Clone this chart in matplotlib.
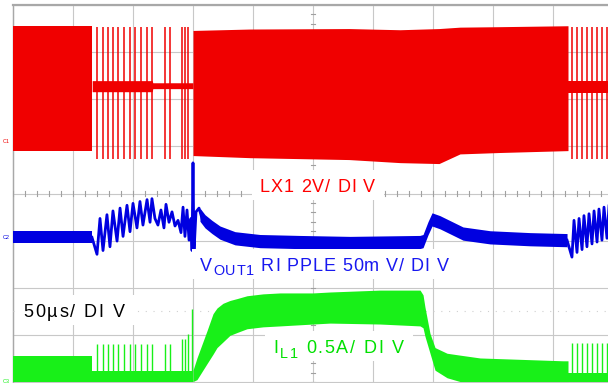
import numpy as np
import matplotlib.pyplot as plt
from matplotlib.patches import Rectangle
from matplotlib.transforms import IdentityTransform
from matplotlib.font_manager import FontProperties, findfont, get_font
from matplotlib.ft2font import LoadFlags

plt.rcParams['font.family'] = ['Liberation Sans', 'DejaVu Sans']

# scope screen: 50 us/div, 8 vertical divisions, centre at 0
T_DIV = 50.0
CH1_OFS, CH1_SCALE = 1.10, 2.0     # LX1, V/div
CH2_OFS, CH2_SCALE = -0.93, 50.0   # VOUT1 ripple, mV/div
CH3_OFS, CH3_SCALE = -3.99, 0.5    # IL1, A/div

RED = '#f00000'
BLUE = '#0000e0'
GREEN = '#18f018'

# ---- CH1: LX1 (V) ----
lx1_block1_t = [0, 66]
lx1_block1_hi = [4.90, 4.90]
lx1_block1_lo = [-0.38, -0.38]
lx1_block2_t = [150, 197.5, 280, 322.5, 355, 372.5, 405.8, 462.5]
lx1_block2_hi = [4.72, 4.78, 4.80, 4.75, 4.80, 4.86, 4.88, 4.92]
lx1_block2_lo = [-0.59, -0.68, -0.76, -0.89, -0.93, -0.52, -0.46, -0.38]
lx1_idle1_t = [66, 116, 116.5, 150]
lx1_idle1_hi = [2.59, 2.59, 2.50, 2.50]
lx1_idle1_lo = [2.12, 2.12, 2.25, 2.25]
lx1_idle2_t = [462.5, 500]
lx1_idle2_hi = [2.59, 2.59]
lx1_idle2_lo = [2.08, 2.08]
pulses1_t = [69.8, 74.7, 78.9, 83.6, 87.8, 92.5, 97.5, 101.7, 106.7,
             111.4, 115.6, 126.7, 130.8, 140.6, 143.3, 145.8]
pulses2_t = [465.6, 469.7, 473.9, 478.1, 482.2, 486.4, 490.6, 494.7]
lx1_pulse_hi = 4.85
lx1_pulse_lo = -0.75

# ---- CH2: VOUT1 ripple (mV) ----
vout_flat_t = [0, 66]
vout_flat_c = [0, 0]
vout_decay_t = [155.8, 160, 165.8, 172.5, 185, 205.8, 239, 280.8, 339,
                341.7, 345.8, 349.2, 355.8, 375, 397.5, 430.8, 461.7]
vout_decay_c = [24, 17, 11, 5, -1, -4, -5, -6, -5,
                -4, 9.5, 19, 16, 4, 0, -2, -3]
vout_zig1_t = [65.8, 70, 72.5, 75, 78.3, 80.8, 83.3, 86.7, 89.2, 91.7, 95,
               97.5, 100, 103.3, 105.8, 108.3, 111.7, 114.2, 115.8, 118.3,
               120.8, 123.3, 125.8, 127.5, 130, 132.5, 135, 137.5, 140,
               141.7, 143.3, 145, 146.7, 148.3, 149.2, 150, 150.8, 152.5,
               155, 157.5]
vout_zig1_v = [0, -18, 20, -14, 24, -10, 28, -4, 31, 1, 34,
               6, 36, 10, 38, 13, 40, 16, 41, 20,
               13, 29, 10, 35, 16, 27, 12, 18, 5,
               32, 1, 29, -3, 20, -14, 79, -16, 27,
               31, 20]
vout_zig2_t = [461.7, 465.8, 467.5, 470, 471.7, 474.2, 475.8, 478.3, 480,
               482.5, 484.2, 486.7, 488.3, 490.8, 492.5, 495, 496.7]
vout_zig2_v = [-3, -21, 18, -16, 20, -13, 23, -10, 25,
               -7, 28, -5, 30, -3, 32, -1, 34]
vout_half = [6.5, 7.0]

# ---- CH3: IL1 (A) ----
il1_block1_t = [0, 66]
il1_block1_hi = [0.276, 0.276]
il1_idle1_t = [66, 150]
il1_idle1_hi = [0.117, 0.117]
il1_idle2_t = [462.5, 500]
il1_idle2_hi = [0.095, 0.095]
il1_main_t = [150, 153.3, 161.7, 166.7, 170, 175, 180.8, 186.7, 195, 208.3,
              222.5, 250, 264.2, 305.8, 339.2, 341.7, 343.3, 347.5, 351.7,
              361.7, 372.5, 389.2, 458.3, 462.5]
il1_main_hi = [0.12, 0.25, 0.54, 0.72, 0.78, 0.83, 0.86, 0.88, 0.91, 0.93,
               0.94, 0.94, 0.95, 0.97, 0.97, 0.92, 0.79, 0.51, 0.36,
               0.30, 0.28, 0.25, 0.22, 0.22]
il1_main_lo = [0, 0.02, 0.19, 0.29, 0.36, 0.42, 0.49, 0.52, 0.56, 0.58,
               0.59, 0.61, 0.62, 0.61, 0.59, 0.57, 0.48, 0.30, 0.12,
               0.04, 0, 0, 0, 0]
il1_pulses1_hi = [0.40, 0.40, 0.40, 0.40, 0.40, 0.40, 0.40, 0.40, 0.40,
                  0.40, 0.40, 0.40, 0.40, 0.45, 0.45, 0.50]
il1_spike_t, il1_spike_hi = 149.5, 0.77
il1_pulses2_hi = 0.41


def ch1(v):
    return CH1_OFS + np.asarray(v) / CH1_SCALE


def ch2(v):
    return CH2_OFS + np.asarray(v) / CH2_SCALE


def ch3(v):
    return CH3_OFS + np.asarray(v) / CH3_SCALE


fig = plt.figure(figsize=(6.08, 3.83), dpi=100)
ax = fig.add_axes([13 / 608, 1 / 383, 600 / 608, 377 / 383])
ax.set_xlim(0, 10 * T_DIV)
ax.set_ylim(-4, 4)
ax.axis('off')

# graticule
grid_c = '#c8c8c8'
for k in range(11):
    ax.axvline(k * T_DIV, color=grid_c, lw=0.8, zorder=1, clip_on=False)
for k in range(-4, 5):
    ax.axhline(k, color=grid_c, lw=0.8, zorder=1, clip_on=False)
ax.axhline(4, color='#a8a8a8', lw=1.6, zorder=1, clip_on=False)
ax.axvline(0, color='#a8a8a8', lw=1.0, zorder=1, clip_on=False)
ax.axhline(-2.5, color='#d0d0d0', lw=0.8, ls=(0, (1, 6)), zorder=1)
for t in np.arange(0, 500, 10):
    ax.plot([t, t], [-0.05, 0.05], color='#a0a0a0', lw=0.8, zorder=1)
for y in np.arange(-4, 4, 0.2):
    ax.plot([248.5, 251.5], [y, y], color='#a0a0a0', lw=0.8, zorder=1)

# CH1 LX1
ax.fill_between(lx1_block1_t, ch1(lx1_block1_lo), ch1(lx1_block1_hi),
                color=RED, lw=0, zorder=2)
ax.fill_between(lx1_block2_t, ch1(lx1_block2_lo), ch1(lx1_block2_hi),
                color=RED, lw=0, zorder=2)
ax.fill_between(lx1_idle1_t, ch1(lx1_idle1_lo), ch1(lx1_idle1_hi),
                color=RED, lw=0, zorder=2)
ax.fill_between(lx1_idle2_t, ch1(lx1_idle2_lo), ch1(lx1_idle2_hi),
                color=RED, lw=0, zorder=2)
ax.vlines(pulses1_t + pulses2_t, ch1(lx1_pulse_lo), ch1(lx1_pulse_hi),
          color=RED, lw=1.1, zorder=2)

# CH2 VOUT1 ripple
ax.fill_between(vout_flat_t, ch2(np.array(vout_flat_c) - vout_half[0]),
                ch2(np.array(vout_flat_c) + vout_half[0]),
                color=BLUE, lw=0, zorder=3)
ax.fill_between(vout_decay_t, ch2(np.array(vout_decay_c) - vout_half[1]),
                ch2(np.array(vout_decay_c) + vout_half[1]),
                color=BLUE, lw=0, zorder=3)
ax.plot(vout_zig1_t, ch2(vout_zig1_v), color=BLUE, lw=2.0, zorder=3)
ax.plot(vout_zig2_t, ch2(vout_zig2_v), color=BLUE, lw=2.0, zorder=3)

# CH3 IL1
ax.fill_between(il1_block1_t, ch3(0), ch3(il1_block1_hi),
                color=GREEN, lw=0, zorder=2)
ax.fill_between(il1_idle1_t, ch3(0), ch3(il1_idle1_hi),
                color=GREEN, lw=0, zorder=2)
ax.fill_between(il1_idle2_t, ch3(0), ch3(il1_idle2_hi),
                color=GREEN, lw=0, zorder=2)
ax.fill_between(il1_main_t, ch3(il1_main_lo), ch3(il1_main_hi),
                color=GREEN, lw=0, zorder=2)
ax.vlines(pulses1_t, ch3(0), ch3(il1_pulses1_hi), color=GREEN, lw=1.0,
          zorder=2)
ax.vlines([il1_spike_t], ch3(0), ch3(il1_spike_hi), color=GREEN, lw=1.0,
          zorder=2)
ax.vlines(pulses2_t, ch3(0), ch3(il1_pulses2_hi), color=GREEN, lw=1.0,
          zorder=2)

# channel ground markers
for name, ofs, c in [('C1', CH1_OFS, RED), ('C2', CH2_OFS, BLUE),
                     ('C3', CH3_OFS, GREEN)]:
    ax.text(-5.5, ofs, name, color=c, fontsize=4, ha='center', va='center',
            clip_on=False, zorder=4)

# scope annotations: letter-spaced text on white boxes
LABEL_FS = 13
label_font = FontProperties(family='Liberation Sans')
ft = get_font(findfont(label_font))


def advance_px(ch, size):
    g = ft.load_char(ord(ch), flags=LoadFlags.NO_SCALE)
    return g.horiAdvance / ft.units_per_EM * size * fig.dpi / 72


def spaced_label(t, y, chunks, color, track):
    """chunks: (text, size factor, baseline drop in px)"""
    x0, base = ax.transData.transform((t, y))
    x = x0
    for s, f, drop in chunks:
        size = LABEL_FS * f
        for ch in s:
            if ch != ' ':
                ax.text(x, base - drop, ch, transform=IdentityTransform(),
                        fontproperties=label_font, fontsize=size,
                        color=color, ha='left', va='baseline', zorder=6)
            x += advance_px(ch, size) + track
    ax.add_patch(Rectangle((x0 - 8, base - 8), x - x0 + 16, 30,
                           transform=IdentityTransform(), facecolor='white',
                           edgecolor='none', zorder=5))


spaced_label(205.8, 0.04, [('LX1 2V/ DI V', 1, 0)], '#ff0000', 1.0)
spaced_label(155.8, -1.655, [('V', 1, 0), ('OUT1', 0.8, 4),
                             (' RI PPLE 50m V/ DI V', 1, 0)],
             '#1818f0', 0.9)
spaced_label(8.3, -2.63, [('50µs/ DI V', 1, 0)], 'black', 1.9)
spaced_label(216.7, -3.395, [('I', 1, 0), ('L1', 0.8, 5),
                             (' 0.5A/ DI V', 1, 0)], '#00e000', 1.7)

fig.savefig('out.png', dpi=100)
